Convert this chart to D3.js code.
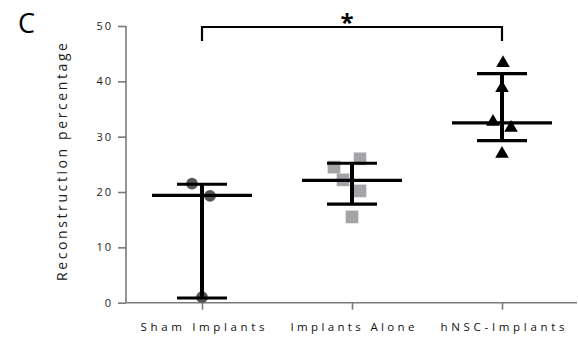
<!DOCTYPE html>
<html>
<head>
<meta charset="utf-8">
<script src="https://cdn.jsdelivr.net/npm/d3@7"></script>
<style>
  body { margin: 0; background: #fff; }
  text { font-family: "Open Sans", "DejaVu Sans", sans-serif; }
</style>
</head>
<body>
<svg id="chart" width="578" height="339"></svg>
<script>
const categories = ["Sham Implants", "Implants Alone", "hNSC-Implants"];

// individual points per group
const shamValues = [21.5, 19.3, 1.0];
const aloneValues = [24.5, 26.0, 22.2, 20.2, 15.5];
const hnscValues = [43.3, 38.8, 32.7, 31.6, 26.9];

// horizontal offsets of each point inside its column (jitter, px)
const shamJitter = [-10, 8, 0];
const aloneJitter = [-18, 8, -9, 8, 0];
const hnscJitter = [1, 0, -9, 9, 0];

// centre line and error bar ends per group
const centerValues = [19.4, 22.1, 32.5];
const lowValues = [0.85, 17.8, 29.3];
const highValues = [21.4, 25.2, 41.4];

const yTicks = [0, 10, 20, 30, 40, 50];

const width = 578, height = 339;
const margin = { left: 126, right: 1, top: 26, bottom: 36 };

const svg = d3.select("#chart");

const x = d3.scalePoint()
  .domain(categories)
  .range([202, 502]);

const y = d3.scaleLinear()
  .domain([0, 50])
  .range([302.7, 26]);

// axes
const yAxis = svg.append("g")
  .attr("transform", "translate(" + margin.left + ",0)")
  .call(d3.axisLeft(y).tickValues(yTicks).tickSize(8).tickPadding(5));

const xAxis = svg.append("g")
  .attr("transform", "translate(0," + y(0) + ")")
  .call(d3.axisBottom(x).tickSize(7).tickPadding(13));

// stretch the x axis over the full width
xAxis.select(".domain").attr("d", "M" + margin.left + ",0H" + (width - margin.right));
yAxis.select(".domain").attr("d", "M0," + y(0) + "V" + y(50));

svg.selectAll(".domain, .tick line")
  .attr("stroke", "#7a7a7a")
  .attr("stroke-width", 1.6);

yAxis.selectAll(".tick text")
  .attr("font-size", 11)
  .attr("letter-spacing", "2px")
  .attr("fill", "#222");

xAxis.selectAll(".tick text")
  .attr("font-size", 11.5)
  .attr("fill", "#111")
  .attr("textLength", 124)
  .attr("lengthAdjust", "spacing");

// axis title
svg.append("text")
  .attr("transform", "translate(67," + 162 + ") rotate(-90)")
  .attr("text-anchor", "middle")
  .attr("font-size", 14)
  .attr("fill", "#222")
  .attr("textLength", 238)
  .attr("lengthAdjust", "spacing")
  .text("Reconstruction percentage");

// panel letter
svg.append("text")
  .attr("x", 18)
  .attr("y", 33)
  .attr("font-size", 27)
  .attr("font-family", "Liberation Sans, Arial, sans-serif")
  .attr("fill", "#000")
  .text("C");

// points
const groups = [
  { values: shamValues, jitter: shamJitter, shape: d3.symbolCircle, size: 108, fill: "#555555" },
  { values: aloneValues, jitter: aloneJitter, shape: d3.symbolSquare, size: 160, fill: "#a3a3a8" },
  { values: hnscValues, jitter: hnscJitter, shape: d3.symbolTriangle, size: 80, fill: "#000000" }
];

groups.forEach((g, i) => {
  svg.append("g")
    .selectAll("path")
    .data(g.values)
    .enter()
    .append("path")
    .attr("d", d3.symbol().type(g.shape).size(g.size))
    .attr("transform", (d, j) => "translate(" + (x(categories[i]) + g.jitter[j]) + "," + y(d) + ")")
    .attr("fill", g.fill);
});

// error bars and centre lines
const bars = svg.append("g").attr("stroke", "#000");

categories.forEach((c, i) => {
  const cx = x(c);
  bars.append("line")
    .attr("x1", cx).attr("x2", cx)
    .attr("y1", y(lowValues[i])).attr("y2", y(highValues[i]))
    .attr("stroke-width", 4);
  [lowValues[i], highValues[i]].forEach(v => {
    bars.append("line")
      .attr("x1", cx - 25).attr("x2", cx + 25)
      .attr("y1", y(v)).attr("y2", y(v))
      .attr("stroke-width", 3.2);
  });
  bars.append("line")
    .attr("x1", cx - 50).attr("x2", cx + 50)
    .attr("y1", y(centerValues[i])).attr("y2", y(centerValues[i]))
    .attr("stroke-width", 3.2);
});

// significance bracket
const x1 = x(categories[0]), x2 = x(categories[2]);
svg.append("path")
  .attr("d", "M" + x1 + ",41V27H" + x2 + "V41")
  .attr("fill", "none")
  .attr("stroke", "#000")
  .attr("stroke-width", 2.2);

svg.append("text")
  .attr("x", (x1 + x2) / 2 - 5)
  .attr("y", 31)
  .attr("text-anchor", "middle")
  .attr("font-size", 24)
  .attr("font-family", "Liberation Sans, Arial, sans-serif")
  .attr("font-weight", "bold")
  .text("*");
</script>
</body>
</html>
